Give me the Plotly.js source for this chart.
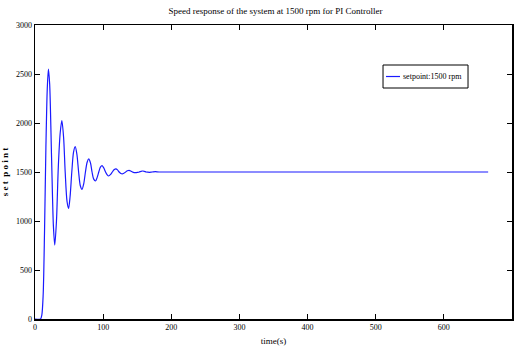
<!DOCTYPE html>
<html>
<head>
<meta charset="utf-8">
<script src="https://cdn.plot.ly/plotly-3.0.1.min.js"></script>
<style>html,body{margin:0;padding:0;background:#fff;}#chart{width:515px;height:352px;}</style>
</head>
<body>
<div id="chart"></div>
<script>
var timeS = [0, 8, 10, 12, 14, 16, 18, 19.7, 21.5, 24.3, 27, 29, 31.5, 34.2, 37, 39.4, 42, 44.3, 47, 49.3, 51.5, 54, 56.5, 59, 61.5, 64, 66.5, 69, 71.5, 74, 76.5, 78.8, 81.5, 83.7, 86, 88.7, 91, 93.6, 96, 98.5, 101, 103.5, 106, 108, 111, 113.5, 116, 118.7, 121, 123.5, 126, 128, 130.5, 133, 135.5, 138, 140.5, 143, 145.5, 148, 150.5, 153, 155.5, 158, 160.5, 163, 165.5, 168, 172, 177, 182, 665];
var speed = [0, 0, 40, 250, 900, 1750, 2350, 2550, 2400, 1650, 950, 755, 1000, 1550, 1900, 2024, 1850, 1500, 1200, 1129, 1250, 1500, 1700, 1758, 1680, 1500, 1360, 1323, 1380, 1500, 1600, 1633, 1590, 1500, 1430, 1408, 1440, 1500, 1550, 1565, 1540, 1500, 1470, 1459, 1475, 1500, 1522, 1531, 1522, 1500, 1484, 1480, 1488, 1500, 1512, 1517, 1511, 1500, 1494, 1493, 1496, 1500, 1507, 1510, 1507, 1500, 1498, 1497, 1500, 1503, 1500, 1500];
var seriesName = 'setpoint:1500 rpm';
var xTicks = [0, 100, 200, 300, 400, 500, 600, 700];
var yTicks = [0, 500, 1000, 1500, 2000, 2500, 3000];

var lineColor = '#1a1aff';
var trace = {
  x: timeS, y: speed, type: 'scatter', mode: 'lines', name: seriesName,
  line: {color: lineColor, width: 1.2, shape: 'spline', smoothing: 0.8}
};
var fnt = {family: 'Liberation Serif, Times New Roman, serif', color: '#000'};
var layout = {
  width: 515, height: 352,
  margin: {l: 35, r: 3, t: 25, b: 33},
  paper_bgcolor: '#fff', plot_bgcolor: '#fff',
  font: fnt,
  title: {text: 'Speed response of the system at 1500 rpm for PI Controller', font: {family: fnt.family, size: 9, color: '#000'}, x: 0.535, xanchor: 'center', y: 0.968, yanchor: 'middle'},
  xaxis: {
    range: [0, 700], tickvals: xTicks, ticktext: xTicks.map(String),
    showgrid: false, zeroline: false, showline: true, linecolor: '#000', linewidth: 1.5,
    mirror: 'allticks', ticks: 'inside', ticklen: 5, tickcolor: '#000',
    tickfont: {family: fnt.family, size: 8, color: '#000'},
    title: {text: 'time(s)', font: {family: fnt.family, size: 9, color: '#000'}, standoff: 6}
  },
  yaxis: {
    range: [0, 3000], tickvals: yTicks, ticktext: yTicks.map(String),
    showgrid: false, zeroline: false, showline: true, linecolor: '#000', linewidth: 1.5,
    mirror: 'allticks', ticks: 'inside', ticklen: 5, tickcolor: '#000',
    tickfont: {family: fnt.family, size: 8, color: '#000'},
    title: {text: '<b>s e t  p o i n t</b>', font: {family: fnt.family, size: 9, color: '#000'}, standoff: 6}
  },
  showlegend: false,
  shapes: [
    {type: 'rect', xref: 'paper', yref: 'paper', x0: 0.7296, x1: 0.9078, y0: 0.7857, y1: 0.8639,
     line: {color: '#000', width: 1}, fillcolor: '#fff', layer: 'above'},
    {type: 'line', xref: 'paper', yref: 'paper', x0: 0.7358, x1: 0.7652, y0: 0.8248, y1: 0.8248,
     line: {color: lineColor, width: 1.2}, layer: 'above'}
  ],
  annotations: [
    {xref: 'paper', yref: 'paper', x: 0.7673, y: 0.8248, xanchor: 'left', yanchor: 'middle', showarrow: false,
     text: seriesName, font: {family: fnt.family, size: 8, color: '#000'}}
  ]
};
Plotly.newPlot('chart', [trace], layout, {displayModeBar: false, staticPlot: true});
</script>
</body>
</html>
